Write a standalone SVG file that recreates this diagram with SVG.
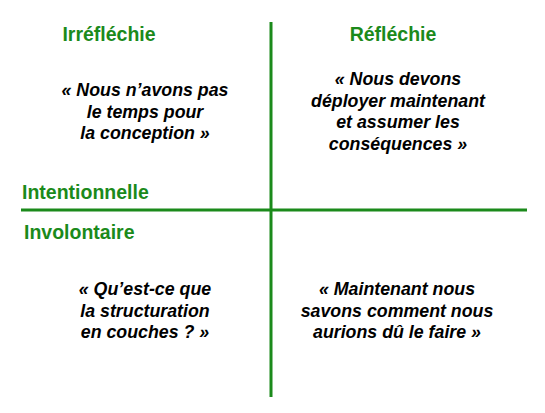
<svg xmlns="http://www.w3.org/2000/svg" width="545" height="413" viewBox="0 0 545 413">
<style>
.axis{stroke:#1b8a1b;stroke-width:3;fill:none}
.lab{font-family:"Liberation Sans",Arial,sans-serif;font-weight:bold;font-size:19.5px;fill:#1b8a1b}
.q{font-family:"Liberation Sans",Arial,sans-serif;font-weight:bold;font-style:italic;font-size:17.8px;fill:#000;text-anchor:middle}
</style>
<rect width="545" height="413" fill="#fff"/>
<g id="connectors">
<line class="axis" x1="271" y1="22" x2="271" y2="397"/>
<line class="axis" x1="21" y1="210" x2="527" y2="210"/>
</g>
<g id="label-irreflechie"><text class="lab" x="109" y="41" text-anchor="middle">Irréfléchie</text></g>
<g id="label-reflechie"><text class="lab" x="393" y="41" text-anchor="middle">Réfléchie</text></g>
<g id="label-intentionnelle"><text class="lab" x="22" y="199">Intentionnelle</text></g>
<g id="label-involontaire"><text class="lab" x="24" y="239">Involontaire</text></g>
<g id="q-top-left"><text class="q" x="145" y="96"><tspan x="145">« Nous n’avons pas</tspan><tspan x="145" dy="21.5">le temps pour</tspan><tspan x="145" dy="21.5">la conception »</tspan></text></g>
<g id="q-top-right"><text class="q" x="398" y="85"><tspan x="398">« Nous devons</tspan><tspan x="398" dy="21.5">déployer maintenant</tspan><tspan x="398" dy="21.5">et assumer les</tspan><tspan x="398" dy="21.5">conséquences »</tspan></text></g>
<g id="q-bottom-left"><text class="q" x="145" y="295"><tspan x="145">« Qu’est-ce que</tspan><tspan x="145" dy="21.5">la structuration</tspan><tspan x="145" dy="21.5">en couches ? »</tspan></text></g>
<g id="q-bottom-right"><text class="q" x="397" y="295"><tspan x="397">« Maintenant nous</tspan><tspan x="397" dy="21.5">savons comment nous</tspan><tspan x="397" dy="21.5">aurions dû le faire »</tspan></text></g>
</svg>
